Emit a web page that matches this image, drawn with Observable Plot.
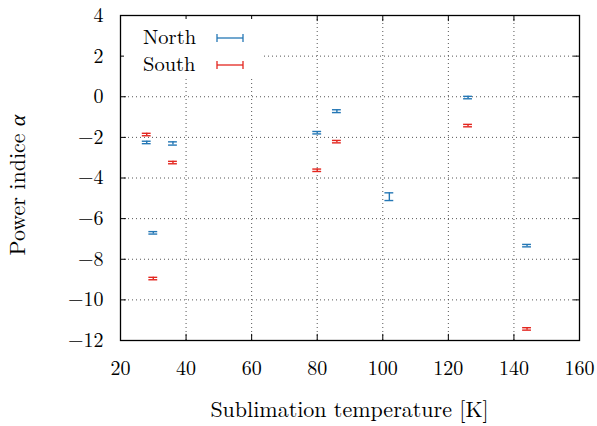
<!DOCTYPE html>
<html><head><meta charset="utf-8">
<script src="https://cdn.jsdelivr.net/npm/d3@7"></script>
<script src="https://cdn.jsdelivr.net/npm/@observablehq/plot@0.6"></script>
<style>
body{margin:0;background:#fff;}
#wrap{position:relative;width:597px;height:426px;}
#wrap svg text, #wrap svg tspan {font-family: 'Latin Modern Roman', 'Liberation Serif', serif !important;}
#wrap svg tspan.greek {font-family: 'Liberation Serif', 'DejaVu Serif', serif !important; font-style: italic;}
</style></head><body><div id="wrap"></div>
<script>
// Data (sublimation temperature in K, power index alpha, error)
const northTemps = [28, 36, 30, 80, 86, 102, 126, 144];
const northAlpha = [-2.25, -2.30, -6.70, -1.77, -0.71, -4.92, -0.04, -7.33];
const northErr   = [0.06, 0.08, 0.06, 0.06, 0.07, 0.19, 0.06, 0.06];
const southTemps = [28, 36, 30, 80, 86, 126, 144];
const southAlpha = [-1.86, -3.24, -8.95, -3.62, -2.21, -1.42, -11.43];
const southErr   = [0.06, 0.06, 0.06, 0.06, 0.06, 0.06, 0.06];
const xTicks = [20, 40, 60, 80, 100, 120, 140, 160];
const yTicks = [-12, -10, -8, -6, -4, -2, 0, 2, 4];
const seriesNames = ["North", "South"];
const seriesColors = ["#2477b5", "#e3261f"];
const xLabel = "Sublimation temperature [K]";

const FONT = "'Latin Modern Roman', 'Liberation Serif', serif";

const north = northTemps.map((t, i) => ({t, a: northAlpha[i], e: northErr[i]}));
const south = southTemps.map((t, i) => ({t, a: southAlpha[i], e: southErr[i]}));

const capHalf = 1.35; // K
const tickLenX = 0.3;  // alpha units (~6px)
const tickLenY = 1.8;  // K units (~6px)

function errMarks(data, color) {
  return [
    Plot.ruleX(data, {x: "t", y1: d => d.a - d.e, y2: d => d.a + d.e, stroke: color, strokeWidth: 1.4}),
    Plot.ruleY(data, {y: d => d.a - d.e, x1: d => d.t - capHalf, x2: d => d.t + capHalf, stroke: color, strokeWidth: 1.4}),
    Plot.ruleY(data, {y: d => d.a + d.e, x1: d => d.t - capHalf, x2: d => d.t + capHalf, stroke: color, strokeWidth: 1.4})
  ];
}

const inner = xTicks.slice(1, -1);
const innerY = yTicks.slice(1, -1);
const grid = {stroke: "#555", strokeWidth: 1, strokeDasharray: "1,3"};

const chart = Plot.plot({
  width: 597, height: 426,
  marginLeft: 120, marginRight: 18, marginTop: 15, marginBottom: 86,
  style: {fontFamily: FONT, fontSize: "20px", background: "white", color: "#000"},
  x: {domain: [20, 160]},
  y: {domain: [-12, 4]},
  marks: [
    Plot.ruleX(inner, grid),
    Plot.ruleY(innerY, grid),
    // inward ticks
    Plot.ruleX(inner, {y1: -12, y2: -12 + tickLenX, stroke: "black"}),
    Plot.ruleX(inner, {y1: 4, y2: 4 - tickLenX, stroke: "black"}),
    Plot.ruleY(innerY, {x1: 20, x2: 20 + tickLenY, stroke: "black"}),
    Plot.ruleY(innerY, {x1: 160, x2: 160 - tickLenY, stroke: "black"}),
    Plot.frame({stroke: "black", strokeWidth: 1.3}),
    Plot.axisX(xTicks, {tickSize: 0, tickPadding: 20, label: null}),
    Plot.axisY(yTicks, {tickSize: 0, tickPadding: 17, label: null}),
    ...errMarks(north, seriesColors[0]),
    ...errMarks(south, seriesColors[1])
  ]
});
document.getElementById("wrap").appendChild(chart);

const svg = d3.select(chart);
// X label
svg.append("text")
  .attr("x", 349.5).attr("y", 417)
  .attr("text-anchor", "middle")
  .attr("font-size", 22)
  .attr("fill", "black")
  .text(xLabel);

// Y label with italic alpha
const yl = svg.append("text")
  .attr("transform", "translate(25,185) rotate(-90)")
  .attr("text-anchor", "middle")
  .attr("font-size", 22)
  .attr("fill", "black");
yl.append("tspan").text("Power indice ");
yl.append("tspan").attr("class", "greek").attr("font-style", "italic").text("α");

// Legend (opaque box like gnuplot)
const lg = svg.append("g");
lg.append("rect").attr("x", 124).attr("y", 19).attr("width", 138).attr("height", 57).attr("fill", "white");
seriesNames.forEach((name, i) => {
  const cy = 38 + i * 27;
  lg.append("text").attr("x", 143).attr("y", cy + 6)
    .attr("text-anchor", "start")
    .attr("font-size", 20.5).attr("fill", "black").text(name);
  const c = seriesColors[i];
  lg.append("line").attr("x1", 217).attr("x2", 243).attr("y1", cy).attr("y2", cy).attr("stroke", c).attr("stroke-width", 1.3);
  lg.append("line").attr("x1", 217).attr("x2", 217).attr("y1", cy - 4).attr("y2", cy + 4).attr("stroke", c).attr("stroke-width", 1.3);
  lg.append("line").attr("x1", 243).attr("x2", 243).attr("y1", cy - 4).attr("y2", cy + 4).attr("stroke", c).attr("stroke-width", 1.3);
});
</script></body></html>
